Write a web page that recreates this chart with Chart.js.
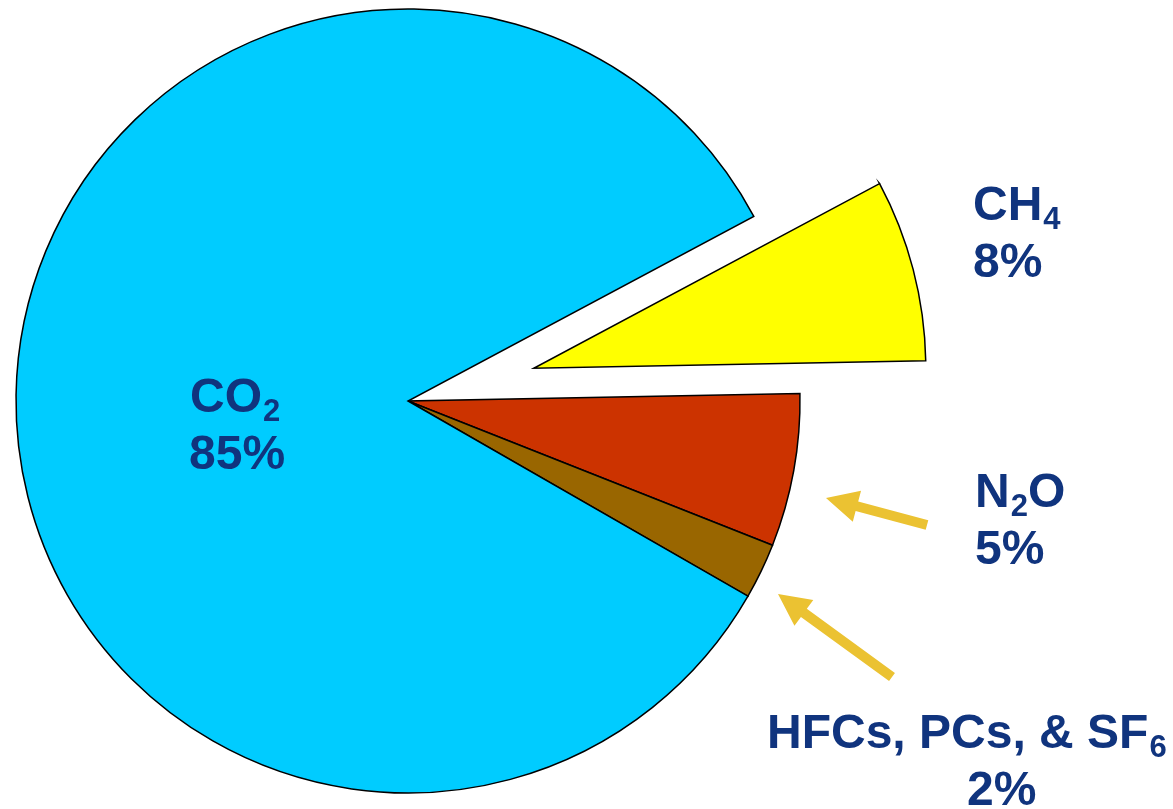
<!DOCTYPE html>
<html>
<head>
<meta charset="utf-8">
<title>Greenhouse gas emissions</title>
<script src="https://cdn.jsdelivr.net/npm/chart.js@4.4.1/dist/chart.umd.min.js"></script>
<style>
  html, body { margin: 0; padding: 0; background: #fff; }
</style>
</head>
<body>
<canvas id="myChart" width="1173" height="809"></canvas>
<script>
// ---------------------------------------------------------------------------
// data, clockwise starting at the pulled-out CH4 slice

let gasNames = ["CH4", "N2O", "HFCs, PCs, & SF6", "CO2"];
let gasShares = [7.5, 6.3, 2.3, 83.9];      // slice sizes as drawn
let gasPercents = ["8%", "5%", "2%", "85%"]; // printed labels
let gasColors = ["#FFFF00", "#CC3300", "#996600", "#00CCFF"];

// ---------------------------------------------------------------------------
// look

const textColor = "#10347E";
const arrowColor = "#EBC232";
const fontFamily = "'Liberation Sans', Arial, sans-serif";
const explodeBy = [130, 0, 0, 0];

// label anchors, relative to the pie centre (left x, first baseline)
const labelSpots = [
  { dx: 565, dy: -181, pctDx: 565 },
  { dx: 567, dy: 106, pctDx: 567 },
  { dx: 359, dy: 347, pctDx: 559 },
  { dx: -218, dy: 11, pctDx: -219 }
];
const arrows = [
  { from: [519, 124], to: [418, 97] },
  { from: [484, 276], to: [370, 193] }
];

// split "N2O" into normal / subscript pieces
function pieces(name) {
  return name.split(/(\d+)/).map((t, i) => ({ text: t, sub: i % 2 === 1 })).filter(p => p.text);
}

function drawFormula(ctx, name, x, y) {
  pieces(name).forEach(p => {
    ctx.font = "bold " + (p.sub ? 31 : 48) + "px " + fontFamily;
    ctx.fillText(p.text, x, p.sub ? y + 9 : y);
    x += ctx.measureText(p.text).width + (p.sub ? 0 : 1);
  });
}

function drawArrow(ctx, x0, y0, x1, y1) {
  let len = Math.hypot(x1 - x0, y1 - y0);
  let ux = (x1 - x0) / len, uy = (y1 - y0) / len;
  let nx = -uy, ny = ux;
  let head = 32, half = 16, shaft = 5;
  let bx = x1 - ux * head, by = y1 - uy * head;
  ctx.beginPath();
  ctx.moveTo(x0 + nx * shaft, y0 + ny * shaft);
  ctx.lineTo(bx + nx * shaft, by + ny * shaft);
  ctx.lineTo(bx + nx * half, by + ny * half);
  ctx.lineTo(x1, y1);
  ctx.lineTo(bx - nx * half, by - ny * half);
  ctx.lineTo(bx - nx * shaft, by - ny * shaft);
  ctx.lineTo(x0 - nx * shaft, y0 - ny * shaft);
  ctx.closePath();
  ctx.fill();
}

// pull slices out along their middle angle while they are drawn
const explodePlugin = {
  id: "explode",
  beforeDatasetDraw(chart, args) {
    chart.getDatasetMeta(args.index).data.forEach((arc, i) => {
      let mid = (arc.startAngle + arc.endAngle) / 2;
      arc.x += Math.cos(mid) * explodeBy[i];
      arc.y += Math.sin(mid) * explodeBy[i];
    });
  },
  afterDatasetDraw(chart, args) {
    chart.getDatasetMeta(args.index).data.forEach((arc, i) => {
      let mid = (arc.startAngle + arc.endAngle) / 2;
      arc.x -= Math.cos(mid) * explodeBy[i];
      arc.y -= Math.sin(mid) * explodeBy[i];
    });
  }
};

const labelPlugin = {
  id: "gasLabels",
  afterDraw(chart) {
    let ctx = chart.ctx;
    let arc = chart.getDatasetMeta(0).data[3];
    let cx = arc.x, cy = arc.y;
    ctx.save();
    ctx.fillStyle = arrowColor;
    arrows.forEach(a => drawArrow(ctx, cx + a.from[0], cy + a.from[1], cx + a.to[0], cy + a.to[1]));
    ctx.fillStyle = textColor;
    ctx.textBaseline = "alphabetic";
    ctx.textAlign = "left";
    gasNames.forEach((name, i) => {
      let s = labelSpots[i];
      drawFormula(ctx, name, cx + s.dx, cy + s.dy);
      ctx.font = "bold 48px " + fontFamily;
      ctx.fillText(gasPercents[i], cx + s.pctDx, cy + s.dy + 57);
    });
    ctx.restore();
  }
};

new Chart("myChart", {
  type: "pie",
  data: {
    labels: gasNames,
    datasets: [{
      data: gasShares,
      backgroundColor: gasColors,
      borderColor: "#000000",
      borderWidth: 1.5,
      borderJoinStyle: "miter"
    }]
  },
  options: {
    responsive: false,
    animation: false,
    rotation: 61.9,
    radius: 392,
    layout: { padding: { left: 0, top: 0, right: 357, bottom: 7 } },
    plugins: {
      legend: { display: false },
      tooltip: { enabled: false }
    }
  },
  plugins: [explodePlugin, labelPlugin]
});
</script>
</body>
</html>
